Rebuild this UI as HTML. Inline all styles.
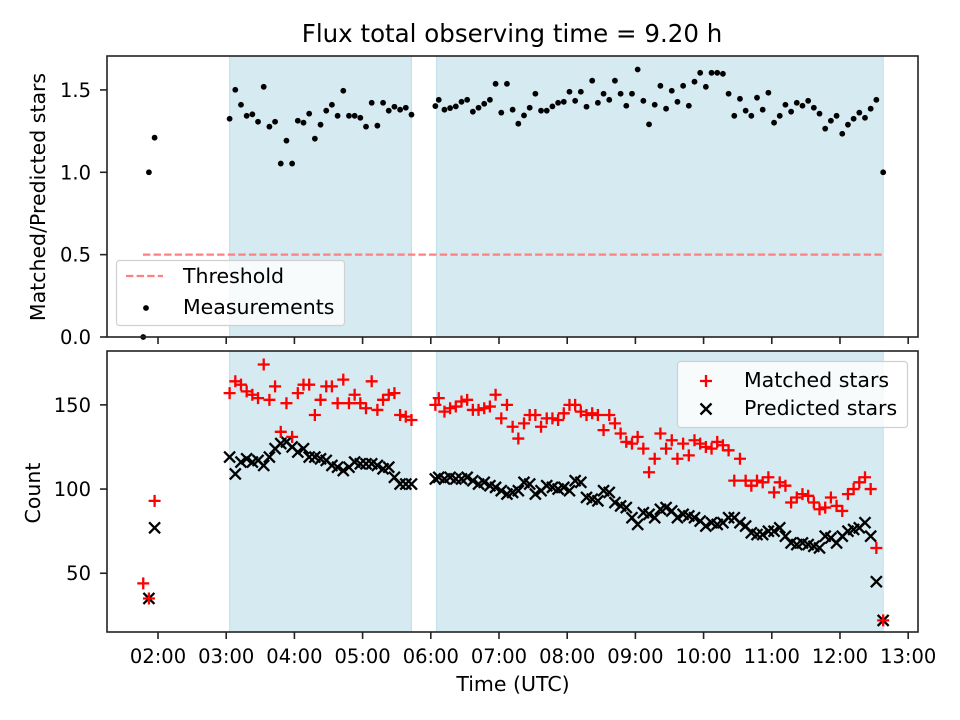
<!DOCTYPE html>
<html><head><meta charset="utf-8"><style>
body{margin:0;background:#fff;}
svg{display:block;font-family:"DejaVu Sans","Liberation Sans",sans-serif;}
</style></head><body>
<svg id="chart" width="960" height="720" viewBox="0 0 960 720"></svg>
<script>
const times = [
"01:47","01:52","01:57",
"03:03","03:08","03:13","03:18","03:23","03:28","03:33","03:38","03:43","03:48","03:53","03:58",
"04:03","04:08","04:13","04:18","04:23","04:28","04:33","04:38","04:43","04:48","04:53","04:58",
"05:03","05:08","05:13","05:18","05:23","05:28","05:33","05:38","05:43",
"06:04","06:07","06:12","06:17","06:22","06:27","06:32","06:37","06:42","06:47","06:52","06:57",
"07:02","07:07","07:12","07:17","07:22","07:27","07:32","07:37","07:42","07:47","07:52","07:57",
"08:02","08:07","08:12","08:17","08:22","08:27","08:32","08:37","08:42","08:47","08:52","08:57",
"09:02","09:07","09:12","09:17","09:22","09:27","09:32","09:37","09:42","09:47","09:52","09:57",
"10:02","10:07","10:12","10:17","10:22","10:27","10:32","10:37","10:42","10:47","10:52","10:57",
"11:02","11:07","11:12","11:17","11:22","11:27","11:32","11:37","11:42","11:47","11:52","11:57",
"12:02","12:07","12:12","12:17","12:22","12:27","12:32","12:38"];
const ratio = [0.0,1.0,1.21,
1.325,1.501,1.410,1.343,1.352,1.307,1.519,1.277,1.307,1.053,1.192,1.053,1.313,1.301,1.356,1.204,1.289,1.374,1.410,1.343,1.495,1.343,1.343,1.331,1.277,1.422,1.283,1.422,1.374,1.398,1.380,1.392,1.350,
1.402,1.440,1.380,1.390,1.400,1.428,1.440,1.368,1.392,1.416,1.440,1.537,1.362,1.537,1.380,1.295,1.345,1.392,1.477,1.374,1.374,1.400,1.422,1.428,1.489,1.434,1.489,1.398,1.556,1.422,1.477,1.440,1.556,1.477,1.404,1.477,1.624,1.434,1.291,1.410,1.525,1.386,
1.495,1.428,1.525,1.404,1.550,1.604,1.519,1.604,1.604,1.598,1.477,1.343,1.446,1.374,1.343,1.453,1.380,1.483,1.301,1.343,1.410,1.368,1.422,1.404,1.434,1.392,1.356,1.265,1.313,1.343,1.234,1.289,1.325,1.362,1.331,1.386,1.440,
1.0];
const matched = [44,35,93,
157,164,162,158,156,154,174,153,161,134,151,131,157,162,162,144,153,161,161,151,165,151,156,151,148,164,147,153,156,157,144,143,141,
150,154,146,148,149,152,153,147,147,148,149,156,142,150,137,130,139,144,144,137,142,142,141,145,150,150,146,144,145,144,135,144,139,133,128,
127,131,124,110,118,133,124,129,118,127,120,129,127,125,124,128,126,123,105,118,105,102,105,
104,107,98,104,102,92,95,97,96,92,88,89,95,90,87,97,100,104,107,100,65,
22];
const predicted = [null,35,77,
119,109,116,118,116,117,114,119,124,127,128,125,122,124,119,119,118,117,114,113,111,113,116,115,115,115,114,112,113,107,103,103,103,
106,107,106,107,106,106,107,105,103,104,102,101,99,97,98,99,104,103,97,99,102,101,100,101,99,105,104,95,94,93,99,98,92,90,89,
83,79,86,85,83,88,89,87,83,85,84,83,81,78,80,79,80,83,83,80,78,74,73,
73,75,75,77,72,68,67,68,67,66,65,72,71,68,72,75,76,77,80,72,45,
22];
const xTicks = ["02:00","03:00","04:00","05:00","06:00","07:00","08:00","09:00","10:00","11:00","12:00","13:00"];
const topTicks = [0.0,0.5,1.0,1.5];
const botTicks = [50,100,150];
const shadeSpans = [["03:03","05:43"],["06:05","12:38"]];
const threshold = 0.5;
const thrSpan = ["01:52","12:38"];

const NS="http://www.w3.org/2000/svg";
const svg=document.getElementById('chart');
function mk(tag,attrs,parent){const e=document.createElementNS(NS,tag);for(const k in attrs)e.setAttribute(k,attrs[k]);(parent||svg).appendChild(e);return e;}
function hrs(t){const p=t.split(':');return +p[0]+ +p[1]/60;}
const L=107,R=918,T1=56,B1=337,T2=351,B2=632;
const X0=1.252,X1=13.144;
function sx(h){return L+(h-X0)/(X1-X0)*(R-L);}
function sy1(v){return B1-(v-0)/(1.706-0)*(B1-T1);}
function sy2(v){return B2-(v-15.1)/(182-15.1)*(B2-T2);}
const TITLE=24.5, LAB=20.5, TICK=19.5, TL=7;

let e=mk('text',{x:512,y:42,'text-anchor':'middle','font-size':TITLE,fill:'#000'});e.textContent='Flux total observing time = 9.20 h';



function panel(T,B,name){
  const g=mk('g',{});
  
  
  shadeSpans.forEach(s=>{
    const r=mk('rect',{x:sx(hrs(s[0])),y:T,width:sx(hrs(s[1]))-sx(hrs(s[0])),height:B-T,fill:'#d5eaf1',stroke:'#bfdfea','stroke-width':1},g);
    
    
  });
  return g;
}
const g1=panel(T1,B1,'ratio-panel');
const g2=panel(T2,B2,'count-panel');

e=mk('line',{x1:sx(hrs(thrSpan[0]))-6,x2:sx(hrs(thrSpan[1])),y1:sy1(threshold),y2:sy1(threshold),stroke:'#ff8080','stroke-width':2.2,'stroke-dasharray':'7.4,3.2'},g1);



times.forEach((t,i)=>{
  if(ratio[i]==null)return;
  const c=mk('circle',{cx:sx(hrs(t)),cy:sy1(ratio[i]),r:2.9,fill:'#000'},g1);
  
  
});

times.forEach((t,i)=>{
  const x=sx(hrs(t));
  if(predicted[i]!=null){
    const y=sy2(predicted[i]);
    const p=mk('path',{d:`M${x-5.5},${y-5.5}L${x+5.5},${y+5.5}M${x-5.5},${y+5.5}L${x+5.5},${y-5.5}`,stroke:'#000','stroke-width':2.3,fill:'none'},g2);
    
    
  }
});
times.forEach((t,i)=>{
  const x=sx(hrs(t));
  if(matched[i]!=null){
    const y=sy2(matched[i]);
    const p=mk('path',{d:`M${x-6},${y}L${x+6},${y}M${x},${y-6}L${x},${y+6}`,stroke:'#ff0000','stroke-width':2.3,fill:'none'},g2);
    
    
  }
});

[[T1,B1,'ratio-axes-frame'],[T2,B2,'count-axes-frame']].forEach(a=>{
  const r=mk('rect',{x:L,y:a[0],width:R-L,height:a[1]-a[0],fill:'none',stroke:'#222','stroke-width':1.6});
  
  
});
xTicks.forEach(t=>{
  const x=sx(hrs(t));
  mk('line',{x1:x,x2:x,y1:B1,y2:B1+TL,stroke:'#222','stroke-width':1.6});
  mk('line',{x1:x,x2:x,y1:B2,y2:B2+TL,stroke:'#222','stroke-width':1.6});
  const tx=mk('text',{x:x,y:663,'text-anchor':'middle','font-size':TICK,fill:'#000'});tx.textContent=t;
  
  
});
topTicks.forEach(v=>{
  const y=sy1(v);
  mk('line',{x1:L-TL,x2:L,y1:y,y2:y,stroke:'#222','stroke-width':1.6});
  const tx=mk('text',{x:L-16,y:y+7,'text-anchor':'end','font-size':TICK,fill:'#000'});tx.textContent=v.toFixed(1);
  
  
});
botTicks.forEach(v=>{
  const y=sy2(v);
  mk('line',{x1:L-TL,x2:L,y1:y,y2:y,stroke:'#222','stroke-width':1.6});
  const tx=mk('text',{x:L-16,y:y+7,'text-anchor':'end','font-size':TICK,fill:'#000'});tx.textContent=String(v);
  
  
});
e=mk('text',{x:513,y:691,'text-anchor':'middle','font-size':LAB,fill:'#000'});e.textContent='Time (UTC)';


e=mk('text',{x:0,y:0,'text-anchor':'middle','font-size':LAB,fill:'#000',transform:'translate(45,197) rotate(-90)'});e.textContent='Matched/Predicted stars';


e=mk('text',{x:0,y:0,'text-anchor':'middle','font-size':LAB,fill:'#000',transform:'translate(40,493) rotate(-90)'});e.textContent='Count';



let lg=mk('g',{});


mk('rect',{x:116.5,y:260.5,width:228,height:65,rx:3,fill:'rgba(255,255,255,0.8)',stroke:'#d0d0d0','stroke-width':1.2},lg);
mk('line',{x1:126,x2:163,y1:276,y2:276,stroke:'#ff8080','stroke-width':2.2,'stroke-dasharray':'7.4,3.2'},lg);
e=mk('text',{x:183,y:283,'font-size':LAB,fill:'#000'},lg);e.textContent='Threshold';


mk('circle',{cx:146,cy:308,r:2.9,fill:'#000'},lg);
e=mk('text',{x:183,y:314,'font-size':LAB,fill:'#000'},lg);e.textContent='Measurements';



lg=mk('g',{});


mk('rect',{x:677.5,y:361.5,width:230,height:66,rx:3,fill:'rgba(255,255,255,0.8)',stroke:'#d0d0d0','stroke-width':1.2},lg);
mk('path',{d:'M700,381L712,381M706,375L706,387',stroke:'#ff0000','stroke-width':2.3},lg);
e=mk('text',{x:744,y:387,'font-size':LAB,fill:'#000'},lg);e.textContent='Matched stars';


mk('path',{d:'M700.5,403.5L711.5,414.5M700.5,414.5L711.5,403.5',stroke:'#000','stroke-width':2.3},lg);
e=mk('text',{x:744,y:415,'font-size':LAB,fill:'#000'},lg);e.textContent='Predicted stars';


</script>
</body></html>
